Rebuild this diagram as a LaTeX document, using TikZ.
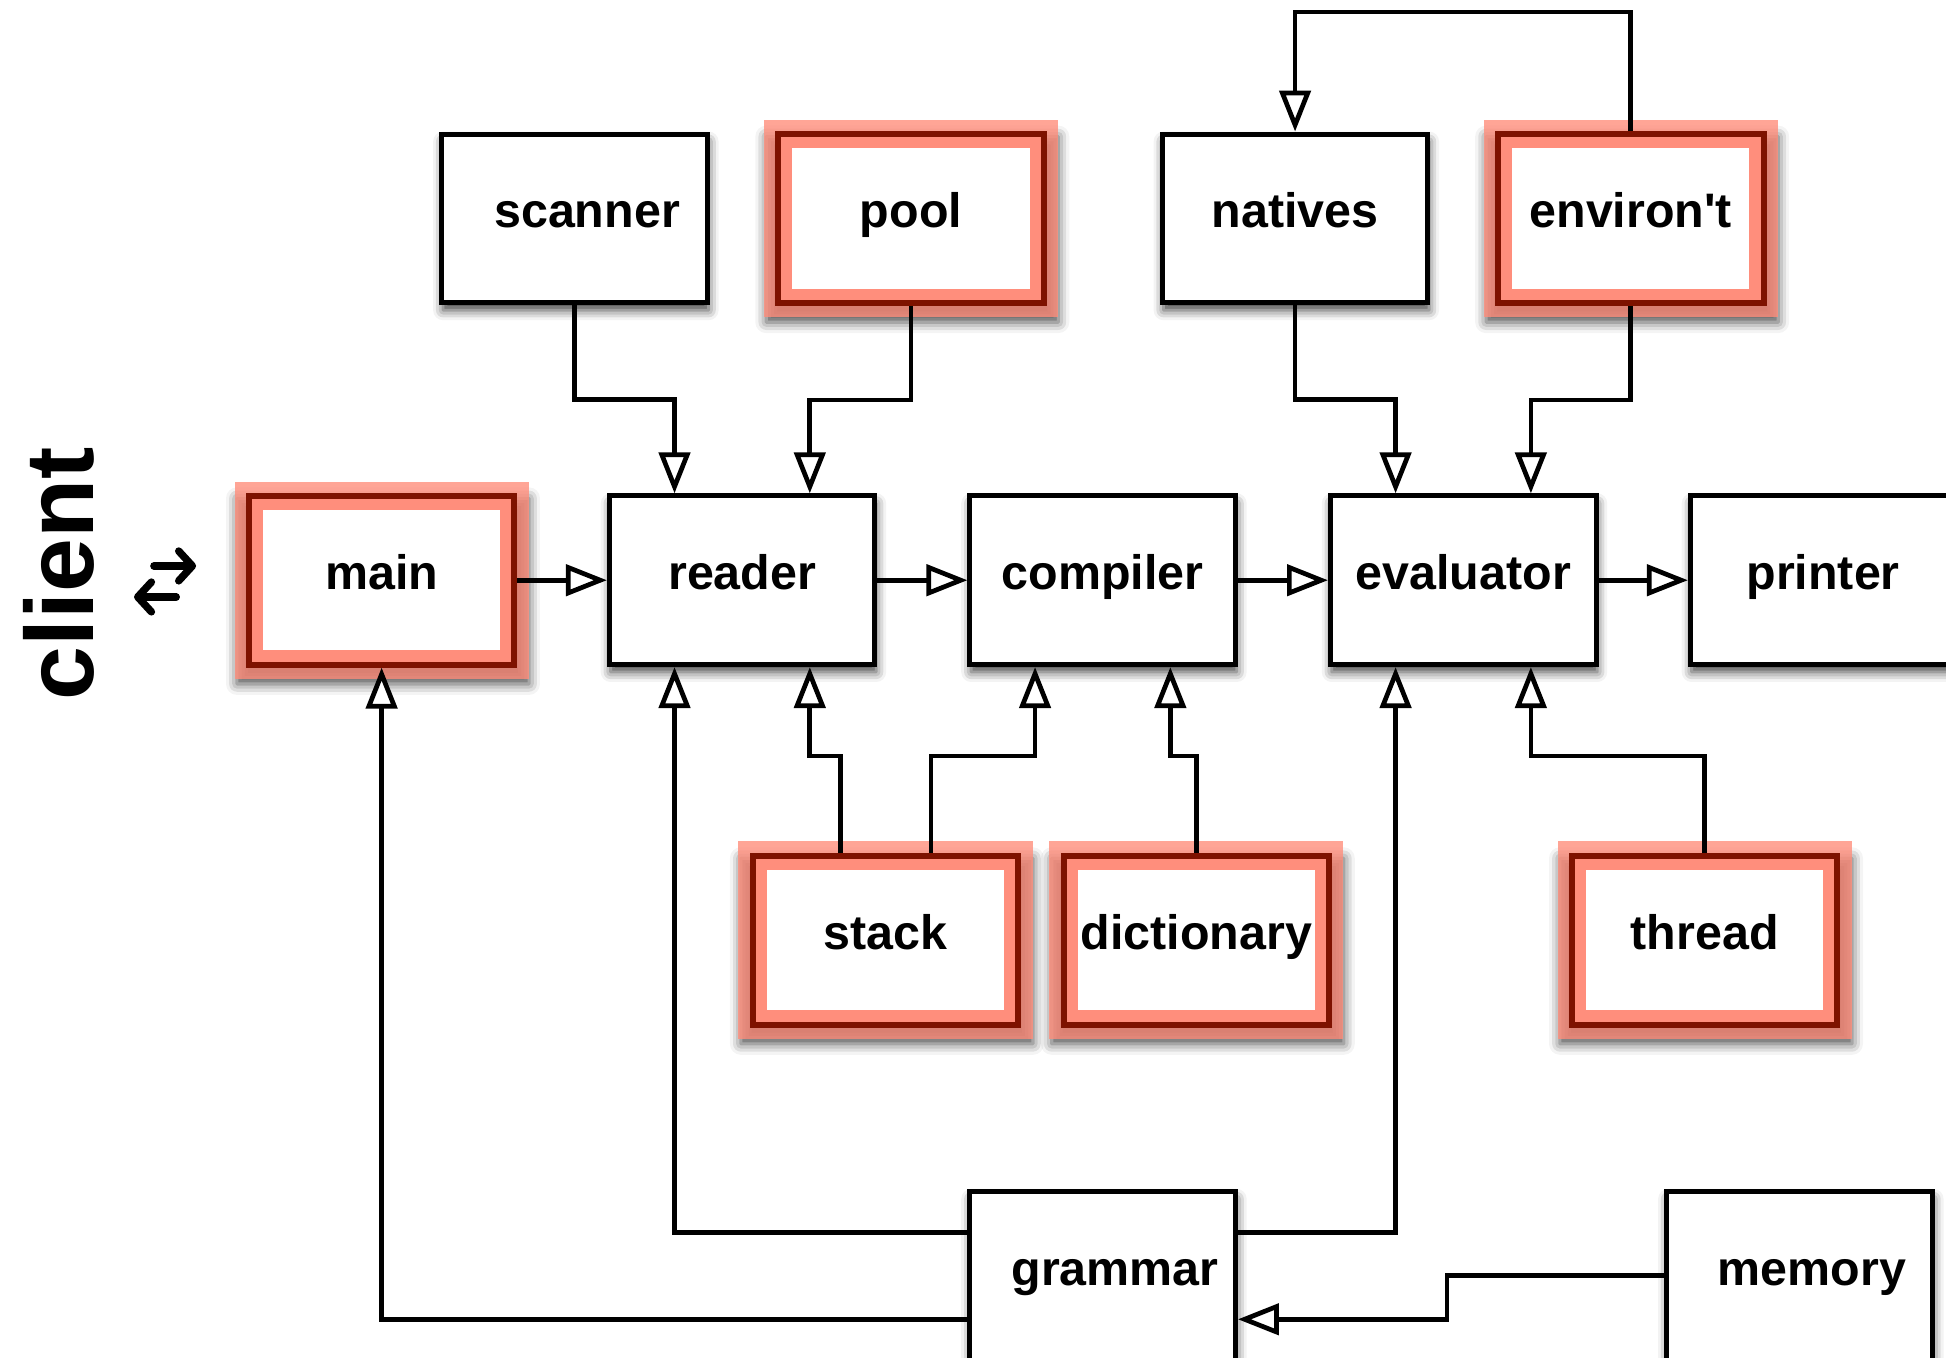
\documentclass[tikz,border=0pt]{standalone}
\usepackage{fontspec}
\setmainfont{Liberation Sans}
\usetikzlibrary{arrows.meta,calc,shadows.blur}
\definecolor{halo}{HTML}{FF8E7C}
\definecolor{rimred}{HTML}{7E1200}

\tikzset{
  box/.style={rectangle, minimum width=107pt, minimum height=68pt, inner sep=0pt,
    font=\bfseries\fontsize{19.5}{22}\selectfont, text height=10pt, text depth=2.6pt},
  plainbox/.style={box, draw=black, line width=2pt, fill=white,
    blur shadow={shadow xshift=0.5pt, shadow yshift=-3pt, shadow blur radius=4pt, shadow opacity=75}},
  redbox/.style={box, draw=rimred, line width=2.4pt, fill=halo,
    blur shadow={shadow xshift=0.5pt, shadow yshift=-4pt, shadow blur radius=4pt, shadow opacity=70, shadow scale=1.1},
    preaction={draw=halo, draw opacity=0.8, line width=11.5pt, line join=miter},
    path picture={\fill[white] ([shift={(5.7pt,-5.7pt)}]path picture bounding box.north west)
      rectangle ([shift={(-5.7pt,5.7pt)}]path picture bounding box.south east);}},
  conn/.style={line width=1.9pt, line join=miter,
    -{Triangle[length=16.5pt, width=12.5pt, fill=white, line width=1.9pt]}},
  swaparrow/.style={line width=3pt, line cap=round,
    -{Straight Barb[length=5.5pt, width=12pt, line cap=round, line join=round]}},
}

\begin{document}
\begin{tikzpicture}[x=0.5pt, y=-0.5pt]
  \useasboundingbox (0,0) rectangle (1568,1094);
  \clip (0,0) rectangle (1568,1094);

  % side label
  \node[font=\bfseries\fontsize{39}{40}\selectfont, rotate=90, anchor=base] (client) at (75,462.5) {client};
  \draw[swaparrow] (124,456) -- (158,456);
  \draw[swaparrow] (142,481) -- (108,481);

  % top row
  \node[plainbox] (scanner) at (463,176) {\hspace*{10pt}scanner};
  \node[redbox]   (pool)    at (734,176) {pool};
  \node[plainbox] (natives) at (1043.5,176) {natives};
  \node[redbox]   (environ) at (1314,176) {environ\textquotesingle t};

  % pipeline row
  \node[redbox]   (main)      at (307.5,467.5) {main};
  \node[plainbox] (reader)    at (598,467.5) {reader};
  \node[plainbox] (compiler)  at (888.5,467.5) {compiler};
  \node[plainbox] (evaluator) at (1179,467.5) {evaluator};
  \node[plainbox] (printer)   at (1469,467.5) {printer};

  % support row
  \node[redbox] (stack)      at (713.5,757.5) {stack};
  \node[redbox] (dictionary) at (964,757.5) {dictionary};
  \node[redbox] (thread)     at (1373.5,757.5) {thread};

  % bottom row
  \node[plainbox] (grammar) at (888.5,1028) {\hspace*{10pt}grammar};
  \node[plainbox] (memory)  at (1450,1028) {\hspace*{10pt}memory};

  % attachment points
  \coordinate (rN1) at ($(reader.north west)!0.25!(reader.north east)$);
  \coordinate (rN2) at ($(reader.north west)!0.75!(reader.north east)$);
  \coordinate (rS1) at ($(reader.south west)!0.25!(reader.south east)$);
  \coordinate (rS2) at ($(reader.south west)!0.75!(reader.south east)$);
  \coordinate (cS1) at ($(compiler.south west)!0.25!(compiler.south east)$);
  \coordinate (cS2) at ($(compiler.south west)!0.75!(compiler.south east)$);
  \coordinate (eN1) at ($(evaluator.north west)!0.25!(evaluator.north east)$);
  \coordinate (eN2) at ($(evaluator.north west)!0.75!(evaluator.north east)$);
  \coordinate (eS1) at ($(evaluator.south west)!0.25!(evaluator.south east)$);
  \coordinate (eS2) at ($(evaluator.south west)!0.75!(evaluator.south east)$);
  \coordinate (sN1) at ($(stack.north west)!0.333!(stack.north east)$);
  \coordinate (sN2) at ($(stack.north west)!0.667!(stack.north east)$);
  \coordinate (gW1) at ($(grammar.north west)!0.25!(grammar.south west)$);
  \coordinate (gW2) at ($(grammar.north west)!0.75!(grammar.south west)$);
  \coordinate (gE1) at ($(grammar.north east)!0.25!(grammar.south east)$);
  \coordinate (gE2) at ($(grammar.north east)!0.75!(grammar.south east)$);

  % feeds from the top row
  \draw[conn] (scanner.south) -- ++(0,76) -| (rN1);
  \draw[conn] (pool.south)    -- ++(0,76) -| (rN2);
  \draw[conn] (natives.south) -- ++(0,76) -| (eN1);
  \draw[conn] (environ.south) -- ++(0,76) -| (eN2);
  \draw[conn] (environ.north) -- ++(0,-96) -| (natives.north);

  % pipeline
  \draw[conn] (main) -- (reader);
  \draw[conn] (reader) -- (compiler);
  \draw[conn] (compiler) -- (evaluator);
  \draw[conn] (evaluator) -- (printer);

  % feeds from the support row
  \draw[conn] (sN1) -- ++(0,-78) -| (rS2);
  \draw[conn] (sN2) -- ++(0,-78) -| (cS1);
  \draw[conn] (dictionary.north) -- ++(0,-78) -| (cS2);
  \draw[conn] (thread.north) -- ++(0,-78) -| (eS2);

  % grammar and memory
  \draw[conn] (gW1) -| (rS1);
  \draw[conn] (gE1) -| (eS1);
  \draw[conn] (gW2) -| (main.south);
  \draw[conn] (memory.west) -- ++(-175,0) |- (gE2);
\end{tikzpicture}
\end{document}
